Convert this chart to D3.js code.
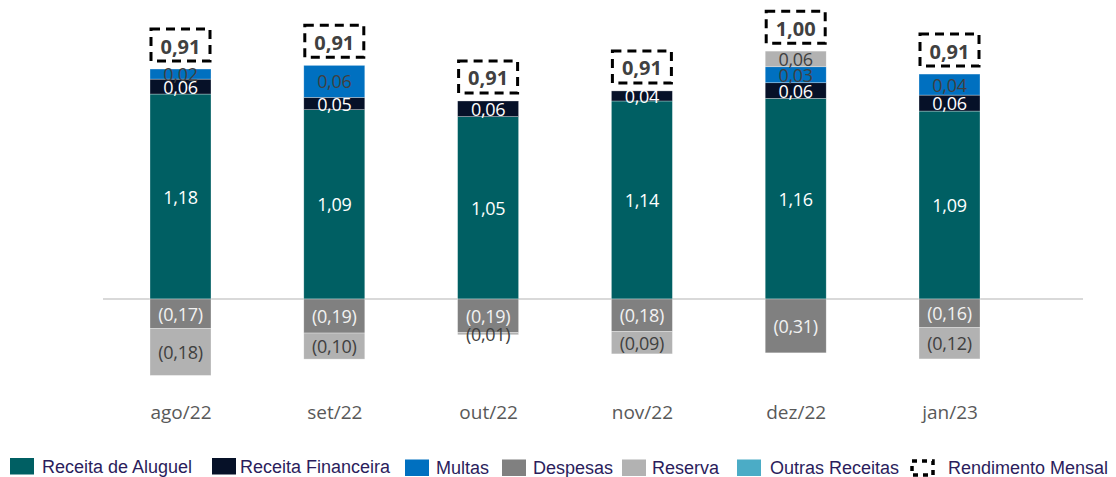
<!DOCTYPE html>
<html><head><meta charset="utf-8">
<script src="https://cdn.jsdelivr.net/npm/d3@7/dist/d3.min.js"></script>
<style>body{margin:0;background:#fff}svg{display:block}</style>
</head><body>
<svg id="c" width="1116" height="477"></svg>
<script>
const categories = ['ago/22','set/22','out/22','nov/22','dez/22','jan/23'];
const receitaAluguel    = [1.18, 1.09, 1.05, 1.14, 1.155, 1.082];
const receitaFinanceira = [0.086, 0.071, 0.09, 0.058, 0.09, 0.092];
const multas            = [0.058, 0.184, 0, 0, 0.092, 0.121];
const reserva           = [-0.27, -0.15, -0.012, -0.13, 0.09, -0.18];
const despesas          = [-0.17, -0.196, -0.194, -0.186, -0.31, -0.165];
const outrasReceitas    = [0, 0, 0, 0, 0, 0];
const rendimento        = [0.91, 0.91, 0.91, 0.91, 1.00, 0.91];

const receitaAluguelLabels    = ['1,18','1,09','1,05','1,14','1,16','1,09'];
const receitaFinanceiraLabels = ['0,06','0,05','0,06','0,04','0,06','0,06'];
const multasLabels            = ['0,02','0,06','','','0,03','0,04'];
const reservaLabels           = ['(0,18)','(0,10)','(0,01)','(0,09)','0,06','(0,12)'];
const despesasLabels          = ['(0,17)','(0,19)','(0,19)','(0,18)','(0,31)','(0,16)'];
const rendimentoLabels        = ['0,91','0,91','0,91','0,91','1,00','0,91'];
const legendNames = ['Receita de Aluguel','Receita Financeira','Multas','Despesas','Reserva','Outras Receitas','Rendimento Mensal'];

const colors = {
  aluguel:'#005F63', fin:'#061128', multas:'#0070C0', desp:'#808080', res:'#B2B2B2', outras:'#4BACC6'
};

const svg = d3.select('#c');
const x = d3.scalePoint().domain(categories).range([103.6, 1026.4]).padding(0.5);
const y = d3.scaleLinear().domain([-0.5, 1.5]).range([299 + 0.5*173.7, 299 - 1.5*173.7]);
const bw = 61;

// zero line
svg.append('line').attr('x1',103).attr('x2',1083).attr('y1',y(0)).attr('y2',y(0))
  .attr('stroke','#d9d9d9').attr('stroke-width',2);

const series = [
  {vals:receitaAluguel, labels:receitaAluguelLabels, color:colors.aluguel, txt:'#ffffff'},
  {vals:receitaFinanceira, labels:receitaFinanceiraLabels, color:colors.fin, txt:'#ffffff'},
  {vals:multas, labels:multasLabels, color:colors.multas, txt:'#404040'},
  {vals:outrasReceitas, labels:categories.map(()=>''), color:colors.outras, txt:'#404040'},
  {vals:despesas, labels:despesasLabels, color:colors.desp, txt:'#f2f2f2'},
  {vals:reserva, labels:reservaLabels, color:colors.res, txt:'#404040'}
];

const segs = [];
const tops = [];
categories.forEach((c,i)=>{
  let pos = 0, neg = 0;
  series.forEach(s=>{
    const v = s.vals[i];
    if (!v) return;
    let y0, y1;
    if (v > 0) { y0 = pos; y1 = pos + v; pos = y1; }
    else { y0 = neg; y1 = neg + v; neg = y1; }
    segs.push({cat:c, y0, y1, color:s.color, label:s.labels[i], txt:s.txt});
  });
  tops.push(pos);
});

const g = svg.append('g');
g.selectAll('rect.seg').data(segs).join('rect').attr('class','seg')
  .attr('x', d=>x(d.cat)-bw/2).attr('width', bw)
  .attr('y', d=>y(Math.max(d.y0,d.y1)))
  .attr('height', d=>Math.abs(y(d.y0)-y(d.y1)))
  .attr('fill', d=>d.color).attr('stroke','#ffffff').attr('stroke-opacity',0.5).attr('stroke-width',0.6);

g.selectAll('text.seg').data(segs.filter(d=>d.label)).join('text').attr('class','seg')
  .attr('x', d=>x(d.cat)).attr('y', d=>(y(d.y0)+y(d.y1))/2)
  .attr('text-anchor','middle').attr('dominant-baseline','central')
  .attr('font-family','"Open Sans", "Noto Sans", sans-serif').attr('font-size',18)
  .attr('fill', d=>d.txt).attr('letter-spacing',-0.3).text(d=>d.label);

// rendimento boxes
const bwBox = 59, bhBox = 32;
categories.forEach((c,i)=>{
  const by = y(tops[i]) - 8 - bhBox;
  svg.append('rect').attr('x', x(c)-bwBox/2).attr('y', by).attr('width', bwBox).attr('height', bhBox)
    .attr('fill','none').attr('stroke','#000').attr('stroke-width',3).attr('stroke-dasharray','9,6');
  svg.append('text').attr('x', x(c)).attr('y', by + bhBox/2 + 1)
    .attr('text-anchor','middle').attr('dominant-baseline','central')
    .attr('font-family','"Open Sans", "Noto Sans", sans-serif').attr('font-weight','bold').attr('font-size',20)
    .attr('fill','#404040').text(rendimentoLabels[i]);
});

// x axis labels
const xAxis = d3.axisBottom(x).tickSize(0).tickPadding(0);
const ax = svg.append('g').attr('transform','translate(0,419)').call(xAxis);
ax.select('.domain').remove();
ax.selectAll('text').attr('font-family','"Open Sans", "Noto Sans", sans-serif').attr('font-size',19)
  .attr('fill','#595959').attr('dy','0');

// legend
const legendColors = [colors.aluguel, colors.fin, colors.multas, colors.desp, colors.res, colors.outras, null];
const swatchX = [10, 212, 405, 502, 622, 737, 910];
const textX   = [42, 240, 436, 533, 652, 770, 948];
const rowY    = [458, 458, 459.5, 459.5, 459.5, 459.5, 459.5];
const lg = svg.append('g');
legendNames.forEach((name,i)=>{
  const sy = rowY[i];
  if (legendColors[i]) {
    lg.append('rect').attr('x',swatchX[i]).attr('y',sy).attr('width',24).attr('height',16.5).attr('fill',legendColors[i]);
  } else {
    lg.append('rect').attr('x',swatchX[i]+2).attr('y',sy+1.5).attr('width',21).attr('height',14)
      .attr('fill','none').attr('stroke','#000').attr('stroke-width',3.5).attr('stroke-dasharray','5,5');
  }
  lg.append('text').attr('x',textX[i]).attr('y',sy+14.7)
    .attr('font-family','"Liberation Sans", Arial, sans-serif').attr('font-size',18)
    .attr('fill','#2B1D5C').text(name);
});
</script>
</body></html>
